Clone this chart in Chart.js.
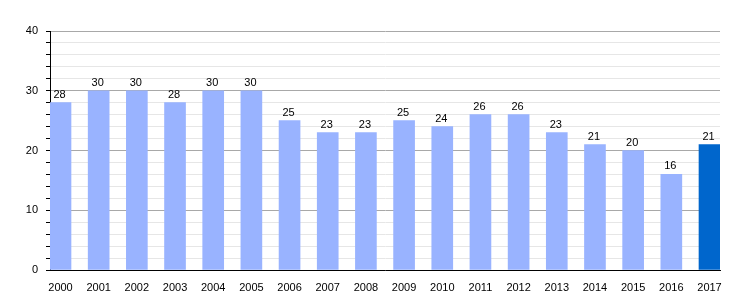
<!DOCTYPE html>
<html>
<head>
<meta charset="utf-8">
<script src="https://cdn.jsdelivr.net/npm/chart.js@4"></script>
<style>
    body { margin: 0; background: #fff; }
    #wrap { width: 750px; height: 300px; }
</style>
</head>
<body>
<div id="wrap"><canvas id="chart"></canvas></div>
<script>
const years = ["2000", "2001", "2002", "2003", "2004", "2005", "2006", "2007", "2008",
    "2009", "2010", "2011", "2012", "2013", "2014", "2015", "2016", "2017"];
const values = [28, 30, 30, 28, 30, 30, 25, 23, 23, 25, 24, 26, 26, 23, 21, 20, 16, 21];
const yTicks = [0, 10, 20, 30, 40];

const lightBlue = "#99b3ff";
const darkBlue = "#0066cc";

// write the value above each bar
const barLabels = {
    id: "barLabels",
    afterDatasetsDraw(chart) {
        const ctx = chart.ctx;
        const meta = chart.getDatasetMeta(0);
        ctx.save();
        ctx.font = "11px 'Liberation Sans', Arial, sans-serif";
        ctx.fillStyle = "#000";
        ctx.textAlign = "center";
        ctx.textBaseline = "alphabetic";
        meta.data.forEach((bar, i) => {
            ctx.fillText(String(values[i]), bar.x - 1, bar.y - 5);
        });
        ctx.restore();
    }
};

new Chart(document.getElementById("chart"), {
    type: "bar",
    data: {
        labels: years,
        datasets: [{
            data: values,
            backgroundColor: years.map((y, i) => i === years.length - 1 ? darkBlue : lightBlue),
            barThickness: 21
        }]
    },
    options: {
        responsive: true,
        maintainAspectRatio: false,
        animation: false,
        layout: { padding: { top: 31, right: 30, bottom: 0, left: 0 } },
        plugins: {
            legend: { display: false },
            tooltip: { enabled: false }
        },
        scales: {
            x: {
                type: "linear",
                offset: false,
                min: 1999.725,
                max: 2017.275,
                afterBuildTicks: s => { s.ticks = years.map(y => ({ value: +y })); },
                afterFit: s => { s.height = 30; },
                grid: { display: false },
                border: { color: "#000", width: 1 },
                ticks: {
                    color: "#000",
                    padding: 3,
                    maxRotation: 0,
                    autoSkip: false,
                    font: { family: "'Liberation Sans', Arial, sans-serif", size: 11 },
                    callback: v => String(v)
                }
            },
            y: {
                min: 0,
                max: 40,
                afterFit: s => { s.width = 50; },
                border: { color: "#000", width: 1 },
                grid: {
                    color: c => yTicks.includes(c.tick.value) ? "#a8a8a8" : "#e6e6e6",
                    tickColor: "#000",
                    tickLength: 4
                },
                ticks: {
                    stepSize: 2,
                    maxTicksLimit: 30,
                    autoSkip: false,
                    color: "#000",
                    padding: 8,
                    font: { family: "'Liberation Sans', Arial, sans-serif", size: 11 },
                    callback: v => yTicks.includes(v) ? String(v) : ""
                }
            }
        }
    },
    plugins: [barLabels]
});
</script>
</body>
</html>
